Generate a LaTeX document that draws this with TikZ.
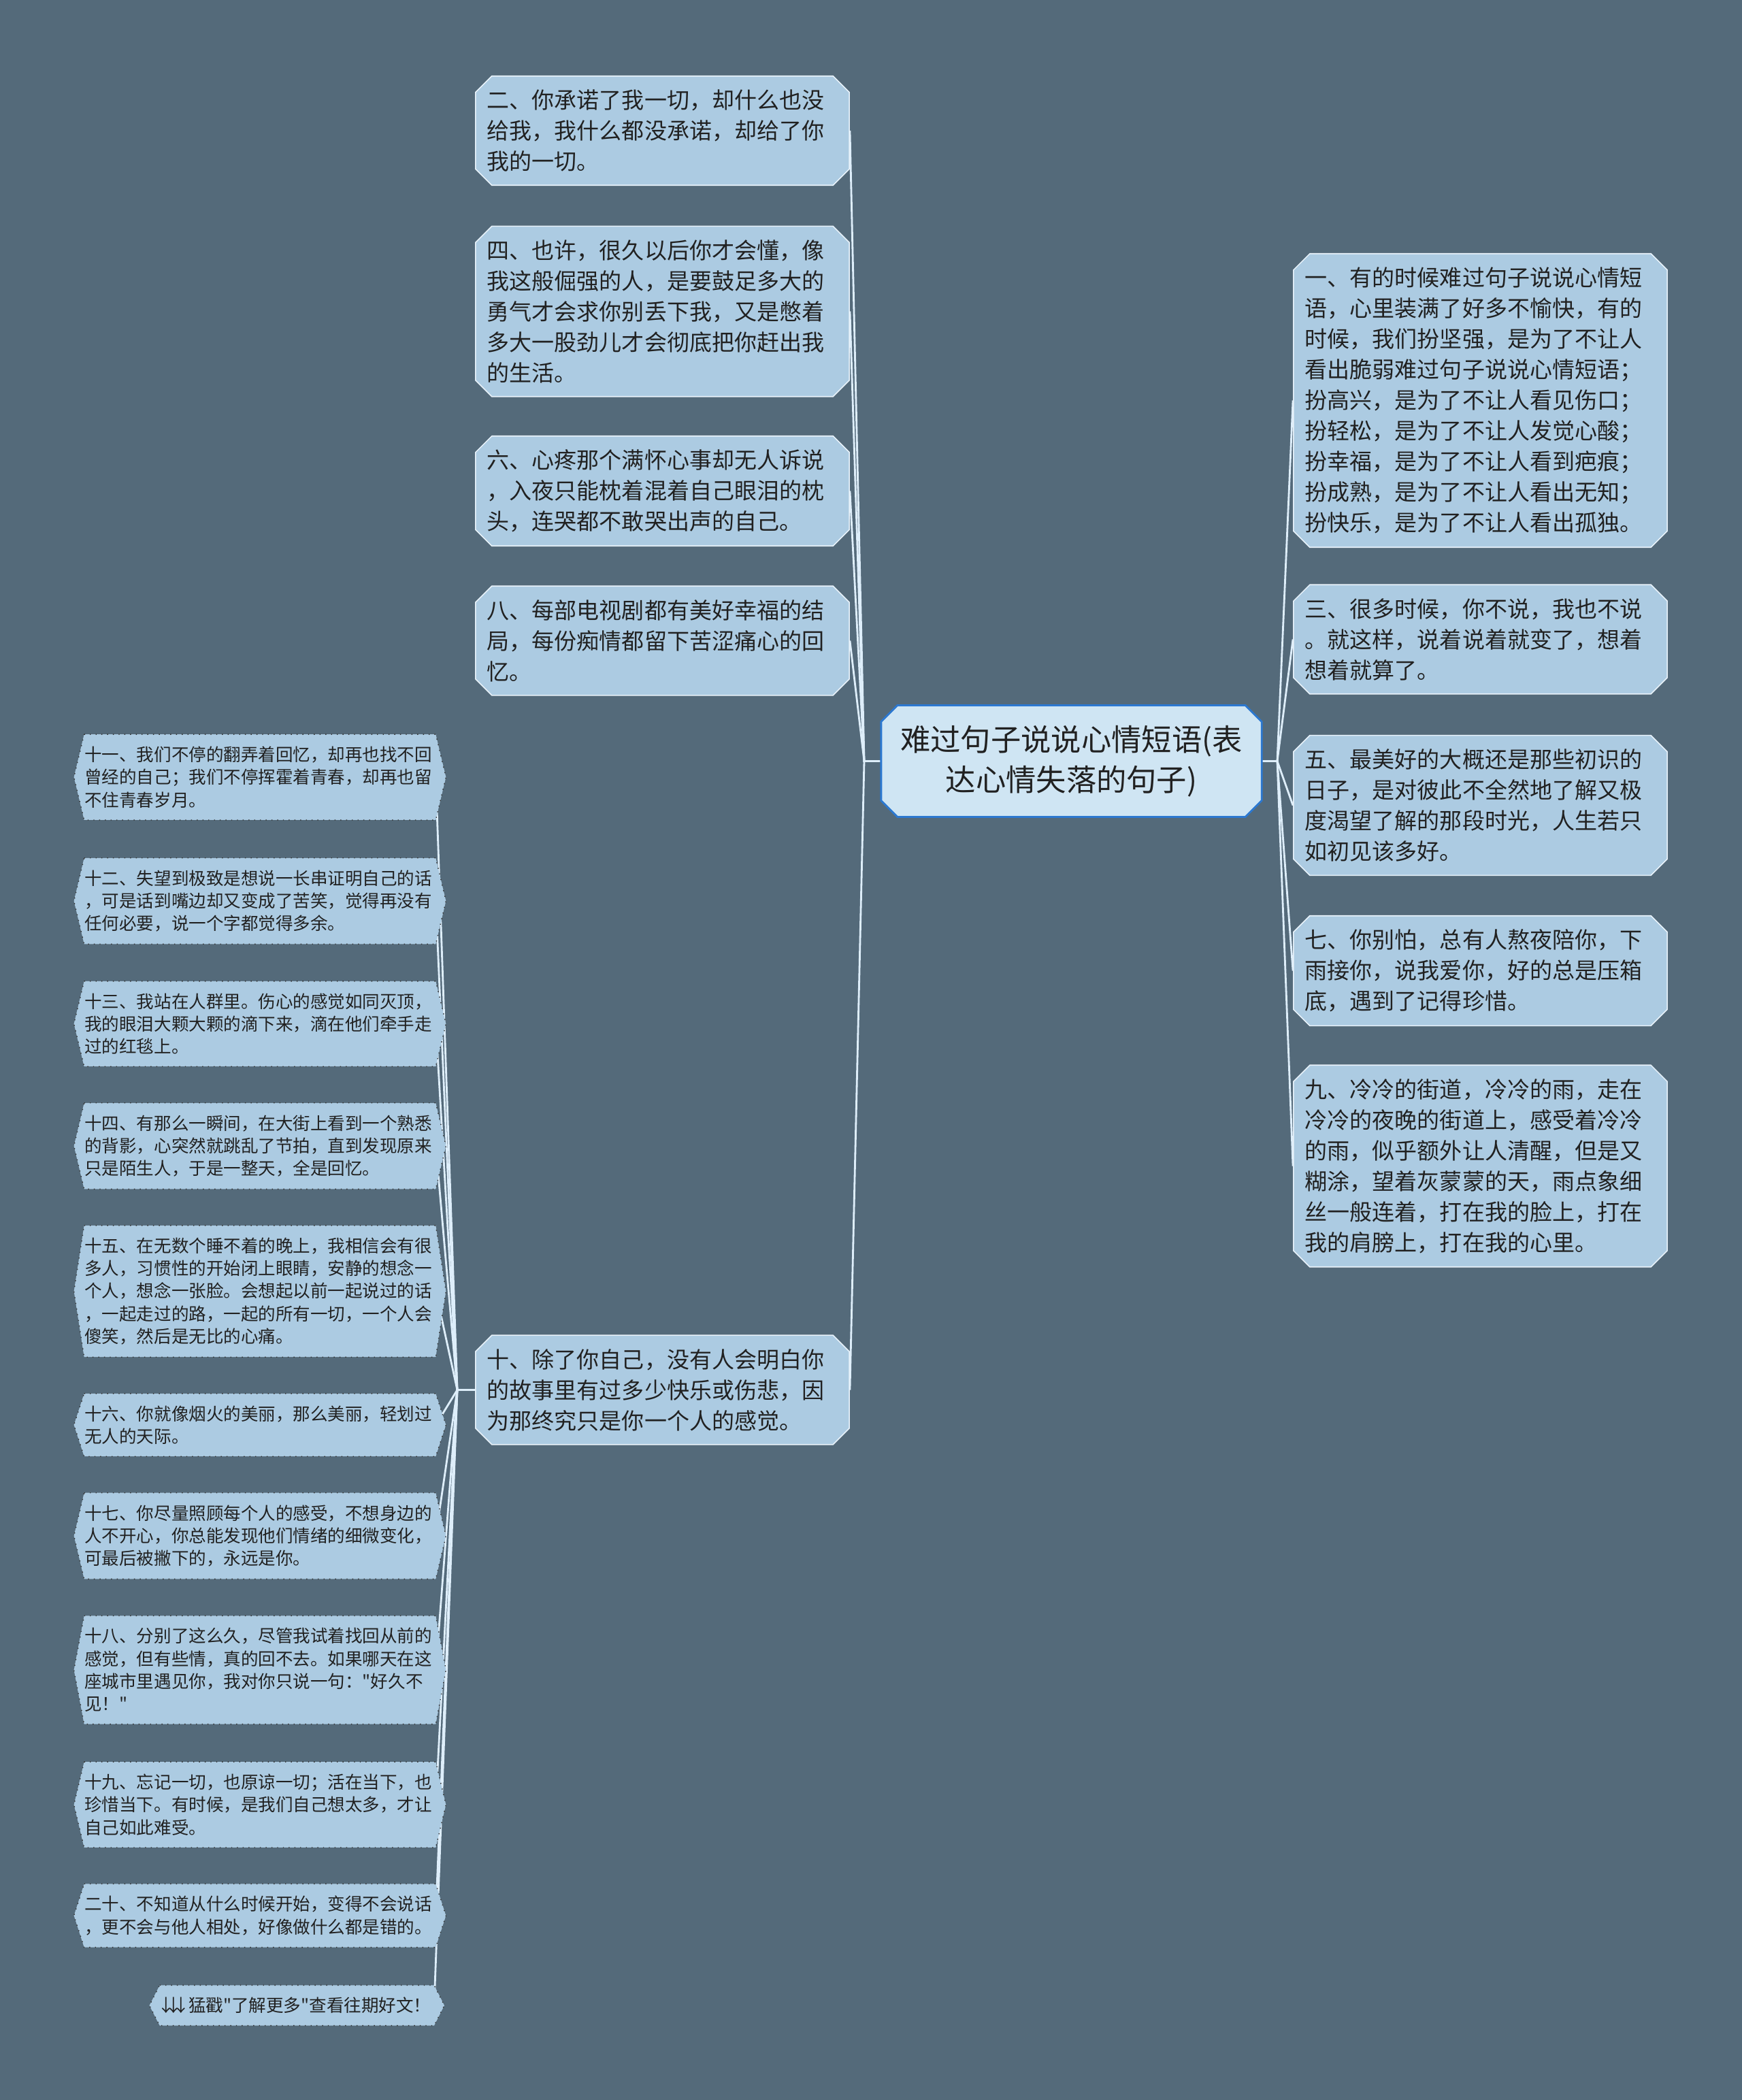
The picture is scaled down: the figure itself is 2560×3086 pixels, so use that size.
\documentclass[tikz,border=0pt]{standalone}
\usepackage{fontspec}
\newfontfamily\cjkfont{Noto Sans CJK SC}
\usetikzlibrary{shapes.misc,backgrounds}
\definecolor{bgcol}{RGB}{84,106,122}
\definecolor{boxfill}{RGB}{172,203,226}
\definecolor{boxline}{RGB}{232,242,250}
\definecolor{rootfill}{RGB}{207,229,243}
\definecolor{rootline}{RGB}{44,120,208}
\definecolor{linkcol}{RGB}{222,238,250}
\definecolor{txtcol}{RGB}{33,33,33}
\newcommand{\dnarrow}{\makebox[0.42em]{↓}}
\begin{document}
\begin{tikzpicture}[x=0.01cm,y=-0.01cm,
    rootbox/.style={chamfered rectangle,chamfered rectangle xsep=0.12cm,chamfered rectangle ysep=0.12cm,fill=rootfill,draw=rootline,line width=0.8pt,text=txtcol,text width=5.1cm,align=center,inner xsep=0.125cm,inner ysep=0.175cm,font=\cjkfont\fontsize{12.6}{16.8}\selectfont},
    mainbox/.style={chamfered rectangle,chamfered rectangle xsep=0.12cm,chamfered rectangle ysep=0.12cm,fill=boxfill,draw=boxline,line width=0.45pt,text=txtcol,text width=5.15cm,align=left,inner xsep=0.05cm,inner ysep=0.08cm,font=\cjkfont\fontsize{9.39}{12.8}\selectfont},
    subbox/.style={text=txtcol,text width=5.15cm,align=left,inner xsep=0pt,inner ysep=0.17cm,font=\cjkfont\fontsize{7.26}{9.5}\selectfont},
    morebox/.style={text=txtcol,inner xsep=0.04cm,inner ysep=0.17cm,font=\cjkfont\fontsize{7.26}{9.5}\selectfont},
    hexline/.style={fill=boxfill,draw=black!80,dotted,line width=0.4pt},
    branch/.style={draw=linkcol,line width=0.8pt}]
    \useasboundingbox (0,0) rectangle (2560,3086);

    \node[rootbox] (root) at (1574.5,1118.5) {难过句子说说心情短语(表\\达心情失落的句子)};

    \node[mainbox] (n2) at (973.5,192) {二、你承诺了我一切，却什么也没\\给我，我什么都没承诺，却给了你\\我的一切。};
    \node[mainbox] (n4) at (973.5,457.5) {四、也许，很久以后你才会懂，像\\我这般倔强的人，是要鼓足多大的\\勇气才会求你别丢下我，又是憋着\\多大一股劲儿才会彻底把你赶出我\\的生活。};
    \node[mainbox] (n6) at (973.5,721.5) {六、心疼那个满怀心事却无人诉说\\，入夜只能枕着混着自己眼泪的枕\\头，连哭都不敢哭出声的自己。};
    \node[mainbox] (n8) at (973.5,941.5) {八、每部电视剧都有美好幸福的结\\局，每份痴情都留下苦涩痛心的回\\忆。};
    \node[mainbox] (n10) at (973.5,2042.5) {十、除了你自己，没有人会明白你\\的故事里有过多少快乐或伤悲，因\\为那终究只是你一个人的感觉。};

    \node[mainbox] (n1) at (2175.5,588.5) {一、有的时候难过句子说说心情短\\语，心里装满了好多不愉快，有的\\时候，我们扮坚强，是为了不让人\\看出脆弱难过句子说说心情短语；\\扮高兴，是为了不让人看见伤口；\\扮轻松，是为了不让人发觉心酸；\\扮幸福，是为了不让人看到疤痕；\\扮成熟，是为了不让人看出无知；\\扮快乐，是为了不让人看出孤独。};
    \node[mainbox] (n3) at (2175.5,939.5) {三、很多时候，你不说，我也不说\\。就这样，说着说着就变了，想着\\想着就算了。};
    \node[mainbox] (n5) at (2175.5,1183.5) {五、最美好的大概还是那些初识的\\日子，是对彼此不全然地了解又极\\度渴望了解的那段时光，人生若只\\如初见该多好。};
    \node[mainbox] (n7) at (2175.5,1426.5) {七、你别怕，总有人熬夜陪你，下\\雨接你，说我爱你，好的总是压箱\\底，遇到了记得珍惜。};
    \node[mainbox] (n9) at (2175.5,1713.5) {九、冷冷的街道，冷冷的雨，走在\\冷冷的夜晚的街道上，感受着冷冷\\的雨，似乎额外让人清醒，但是又\\糊涂，望着灰蒙蒙的天，雨点象细\\丝一般连着，打在我的脸上，打在\\我的肩膀上，打在我的心里。};

    \node[subbox] (s11) at (382,1142) {十一、我们不停的翻弄着回忆，却再也找不回\\曾经的自己；我们不停挥霍着青春，却再也留\\不住青春岁月。};
    \node[subbox] (s12) at (382,1324) {十二、失望到极致是想说一长串证明自己的话\\，可是话到嘴边却又变成了苦笑，觉得再没有\\任何必要，说一个字都觉得多余。};
    \node[subbox] (s13) at (382,1504.5) {十三、我站在人群里。伤心的感觉如同灭顶，\\我的眼泪大颗大颗的滴下来，滴在他们牵手走\\过的红毯上。};
    \node[subbox] (s14) at (382,1684) {十四、有那么一瞬间，在大街上看到一个熟悉\\的背影，心突然就跳乱了节拍，直到发现原来\\只是陌生人，于是一整天，全是回忆。};
    \node[subbox] (s15) at (382,1897.5) {十五、在无数个睡不着的晚上，我相信会有很\\多人，习惯性的开始闭上眼睛，安静的想念一\\个人，想念一张脸。会想起以前一起说过的话\\，一起走过的路，一起的所有一切，一个人会\\傻笑，然后是无比的心痛。};
    \node[subbox] (s16) at (382,2094) {十六、你就像烟火的美丽，那么美丽，轻划过\\无人的天际。};
    \node[subbox] (s17) at (382,2257) {十七、你尽量照顾每个人的感受，不想身边的\\人不开心，你总能发现他们情绪的细微变化，\\可最后被撇下的，永远是你。};
    \node[subbox] (s18) at (382,2454) {十八、分别了这么久，尽管我试着找回从前的\\感觉，但有些情，真的回不去。如果哪天在这\\座城市里遇见你，我对你只说一句："好久不\\见！"};
    \node[subbox] (s19) at (382,2652) {十九、忘记一切，也原谅一切；活在当下，也\\珍惜当下。有时候，是我们自己想太多，才让\\自己如此难受。};
    \node[subbox] (s20) at (382,2815) {二十、不知道从什么时候开始，变得不会说话\\，更不会与他人相处，好像做什么都是错的。};
    \node[morebox,anchor=east] (more) at (638,2947) {\dnarrow\dnarrow\dnarrow{} 猛戳"了解更多"查看往期好文！};

    \coordinate (fanL) at (1270,1118.5);
    \coordinate (fanR) at (1877,1118.5);
    \coordinate (fanS) at (672,2042.5);

    \begin{pgfonlayer}{background}
        \fill[bgcol] (0,0) rectangle (2560,3086);
        \foreach \b in {n2,n4,n6,n8,n10}
            \draw[branch] (root.west) -- (fanL) -- (\b.east);
        \foreach \b in {n1,n3,n5,n7,n9}
            \draw[branch] (root.east) -- (fanR) -- (\b.west);
        \foreach \s in {s11,s12,s13,s14,s15,s16,s17,s18,s19,s20,more}
            \draw[branch] (n10.west) -- (fanS) -- (\s.east);
        \foreach \s in {s11,s12,s13,s14,s15,s16,s17,s18,s19,s20,more}
            \draw[hexline] (\s.north west) -- (\s.north east) -- ([xshift=0.15cm]\s.east)
                -- (\s.south east) -- (\s.south west) -- ([xshift=-0.15cm]\s.west) -- cycle;
    \end{pgfonlayer}
\end{tikzpicture}
\end{document}
